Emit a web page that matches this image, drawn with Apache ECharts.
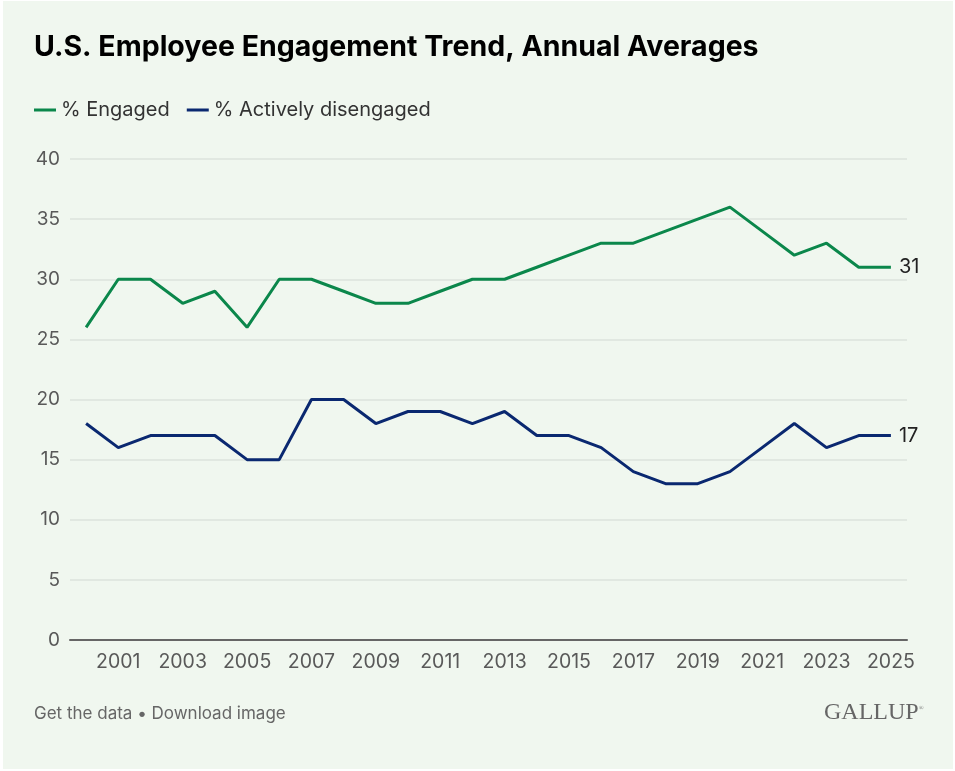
<!DOCTYPE html>
<html>
<head>
<meta charset="utf-8">
<script src="https://cdn.jsdelivr.net/npm/echarts@6/dist/echarts.min.js"></script>
<style>
  html, body { margin: 0; padding: 0; background: #ffffff; }
  #chart { position: absolute; left: 3px; top: 1px; width: 950px; height: 768px; }
</style>
</head>
<body>
<div id="chart"></div>
<script>
// years on the x axis
const years = [
  "2000", "2001", "2002", "2003", "2004", "2005", "2006", "2007", "2008", "2009",
  "2010", "2011", "2012", "2013", "2014", "2015", "2016", "2017", "2018", "2019",
  "2020", "2021", "2022", "2023", "2024", "2025"
];
// % engaged
const engaged = [26, 30, 30, 28, 29, 26, 30, 30, 29, 28, 28, 29, 30, 30, 31, 32, 33, 33, 34, 35, 36, 34, 32, 33, 31, 31];
// % actively disengaged
const disengaged = [18, 16, 17, 17, 17, 15, 15, 20, 20, 18, 19, 19, 18, 19, 17, 17, 16, 14, 13, 13, 14, 16, 18, 16, 17, 17];

const font = "Inter, 'Noto Sans', sans-serif";
const green = "#0b874b";
const navy = "#0a2870";

let myChart = echarts.init(document.getElementById("chart"));
let option = {
  backgroundColor: "#f0f7ef",
  animation: false,
  textStyle: { fontFamily: font },
  title: {
    text: "U.S. Employee Engagement Trend, Annual Averages",
    left: 31,
    top: 32,
    padding: 0,
    textStyle: { fontSize: 28.5, fontWeight: "bold", color: "#000000", fontFamily: font },
  },
  legend: {
    left: 31,
    top: 99,
    padding: 0,
    icon: "rect",
    itemWidth: 22,
    itemHeight: 3,
    itemGap: 17,
    textStyle: { fontSize: 20, color: "#333333", fontFamily: font },
    data: ["% Engaged", "% Actively disengaged"],
  },
  grid: {
    left: 67,
    right: 46,
    top: 158,
    height: 481,
    containLabel: false,
  },
  xAxis: {
    type: "category",
    data: years,
    boundaryGap: true,
    axisTick: { show: false },
    axisLine: { show: true, lineStyle: { color: "#666666", width: 2 } },
    axisLabel: {
      // 只显示奇数年份
      interval: (index) => index % 2 === 1,
      color: "#595959",
      fontSize: 19.5,
      margin: 12,
      fontFamily: font,
    },
  },
  yAxis: {
    type: "value",
    min: 0,
    max: 40,
    interval: 5,
    axisLine: { show: false },
    axisTick: { show: false },
    splitLine: { show: true, lineStyle: { color: "#dde3dc", width: 1.5 } },
    axisLabel: { color: "#595959", fontSize: 19, margin: 10, fontFamily: font },
  },
  series: [
    {
      name: "% Engaged",
      type: "line",
      data: engaged,
      showSymbol: false,
      symbol: "none",
      color: green,
      lineStyle: { color: green, width: 3 },
      endLabel: { show: true, formatter: "{c}", color: "#222222", fontSize: 20, distance: 8, fontFamily: font },
    },
    {
      name: "% Actively disengaged",
      type: "line",
      data: disengaged,
      showSymbol: false,
      symbol: "none",
      color: navy,
      lineStyle: { color: navy, width: 3 },
      endLabel: { show: true, formatter: "{c}", color: "#222222", fontSize: 20, distance: 8, fontFamily: font },
    },
  ],
  graphic: [
    {
      type: "text",
      left: 31,
      top: 704,
      style: { text: "Get the data • Download image", fill: "#666666", font: "17px " + font },
    },
    {
      type: "text",
      left: 821,
      top: 700,
      style: { text: "GALLUP", fill: "#666666", font: "24px 'Liberation Serif', 'DejaVu Serif', serif" },
    },
    {
      type: "text",
      left: 916,
      top: 704,
      style: { text: "®", fill: "#666666", font: "6px 'Liberation Serif', serif" },
    },
  ],
};
myChart.setOption(option, true);

window.addEventListener("resize", () => {
  myChart.resize();
});
</script>
</body>
</html>
